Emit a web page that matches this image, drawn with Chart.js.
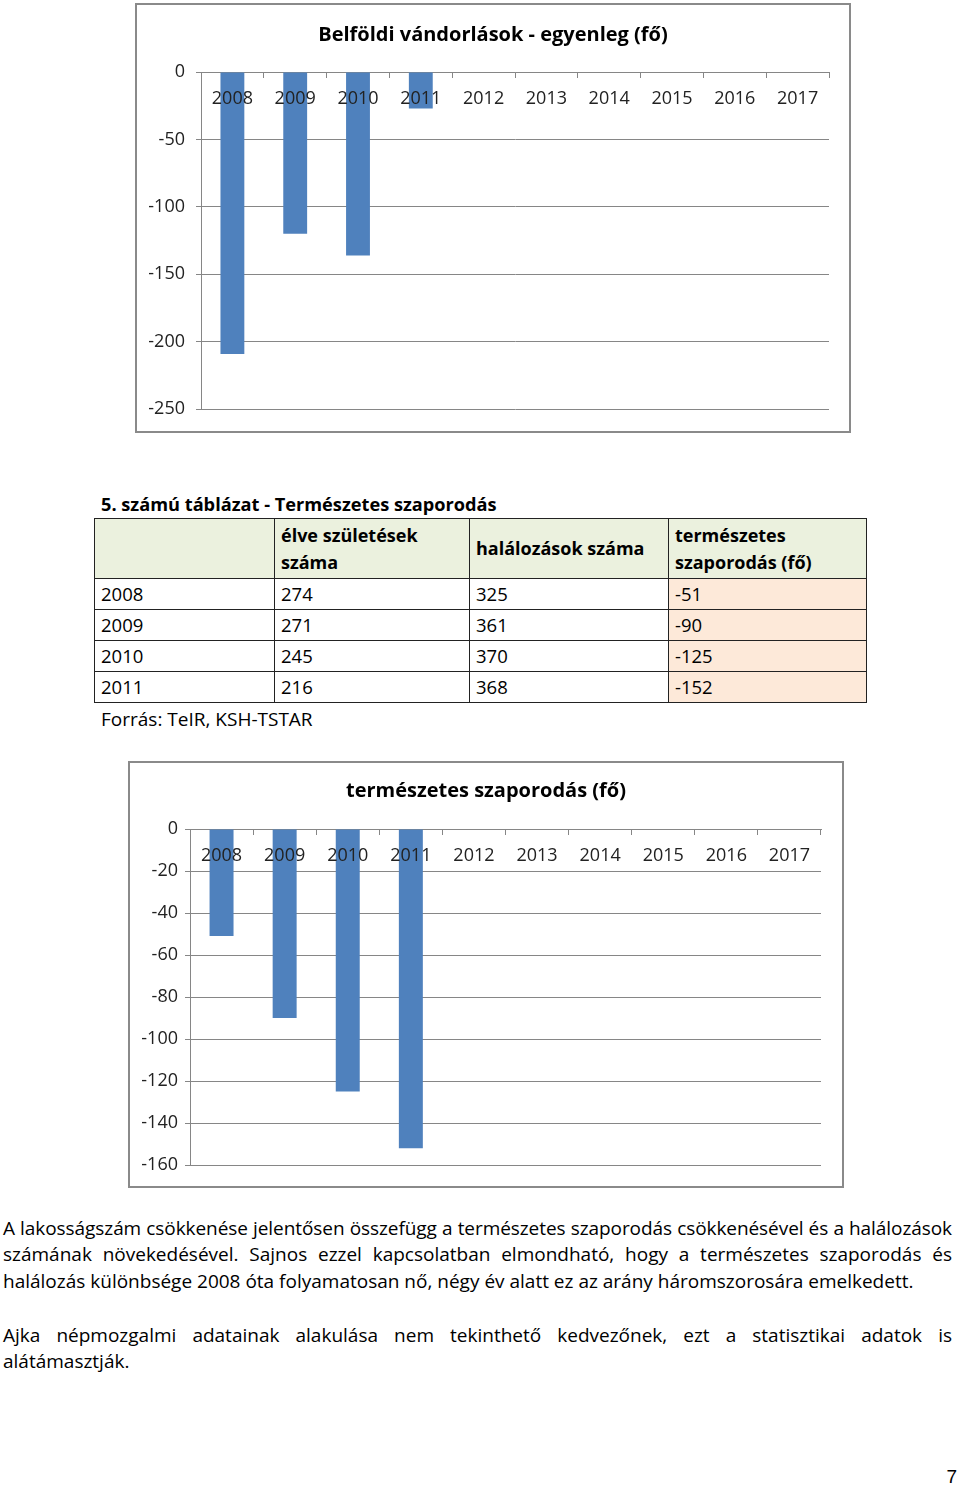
<!DOCTYPE html>
<html lang="hu">
<head>
<meta charset="utf-8">
<script src="https://cdn.jsdelivr.net/npm/chart.js@4.4.1/dist/chart.umd.min.js"></script>
<style>
  body { margin: 0; width: 960px; height: 1486px; position: relative; background: #fff;
         font-family: "Open Sans", sans-serif; color: #000; overflow: hidden; }
  .box { position: absolute; border: 2px solid #8a8a8a; box-sizing: border-box; background: #fff; }
  .box canvas { position: absolute; left: 0; top: 0; }
  .abs { position: absolute; white-space: nowrap; }
  #tblTitle { left: 101px; top: 491px; font-size: 18.2px; font-weight: bold; line-height: 26px; }
  #source { left: 101px; top: 706px; font-size: 19px; line-height: 26px; }
  table { position: absolute; left: 94px; top: 518px; border-collapse: collapse; table-layout: fixed;
          font-size: 18.5px; }
  td { border: 1px solid #222; padding: 0 0 0 6px; vertical-align: middle; line-height: 27px; }
  tr.head td { background: #ebf1de; font-weight: bold; font-size: 18px; height: 59px; }
  tr.row td { height: 30px; line-height: 26px; }
  tr.row td.nat { background: #fde9d9; }
  .line { position: absolute; left: 3px; width: 949px; font-size: 19px; line-height: 26px;
          text-align: justify; text-align-last: justify; white-space: nowrap; }
  .line.last { text-align-last: left; }
  #pageNo { right: 3px; top: 1466px; font-size: 19px; font-family: "Liberation Sans", Arial, sans-serif; }
</style>
</head>
<body>

<div class="box" style="left:135px; top:3px; width:716px; height:430px;">
  <canvas id="chartVandorlas" width="712" height="426"></canvas>
</div>

<div class="abs" id="tblTitle">5. számú táblázat - Természetes szaporodás</div>
<table id="tbl">
  <colgroup><col style="width:180px"><col style="width:195px"><col style="width:199px"><col style="width:198px"></colgroup>
  <tbody></tbody>
</table>
<div class="abs" id="source">Forrás: TeIR, KSH-TSTAR</div>

<div class="box" style="left:128px; top:761px; width:716px; height:427px;">
  <canvas id="chartSzaporodas" width="712" height="423"></canvas>
</div>

<div class="line" style="top:1215px; letter-spacing:-0.07px;">A lakosságszám csökkenése jelentősen összefügg a természetes szaporodás csökkenésével és a halálozások</div>
<div class="line" style="top:1241px;">számának növekedésével. Sajnos ezzel kapcsolatban elmondható, hogy a természetes szaporodás és</div>
<div class="line last" style="top:1268px;">halálozás különbsége 2008 óta folyamatosan nő, négy év alatt ez az arány háromszorosára emelkedett.</div>
<div class="line" style="top:1322px;">Ajka népmozgalmi adatainak alakulása nem tekinthető kedvezőnek, ezt a statisztikai adatok is</div>
<div class="line last" style="top:1348px;">alátámasztják.</div>
<div class="abs" id="pageNo">7</div>

<script>
const FONT = "'Open Sans', sans-serif";

// kategóriák (évek)
const years = ["2008", "2009", "2010", "2011", "2012", "2013", "2014", "2015", "2016", "2017"];

// Belföldi vándorlások - egyenleg (fő), leolvasva az ábráról
const vandorlasValues = [-209, -120, -136, -27];

// 5. számú táblázat
const tableYears = ["2008", "2009", "2010", "2011"];
const szuletesek = [274, 271, 245, 216];
const halalozasok = [325, 361, 370, 368];
const szaporodas = [-51, -90, -125, -152];
const tableHeader = ["", "élve születések<br>száma", "halálozások száma", "természetes<br>szaporodás (fő)"];

// tengelyek
const vandorlasAxis = { min: -250, max: 0, step: 50 };
const szaporodasAxis = { min: -160, max: 0, step: 20 };

// táblázat felépítése
const tbody = document.querySelector("#tbl tbody");
let html = '<tr class="head">' + tableHeader.map(h => `<td>${h}</td>`).join("") + "</tr>";
tableYears.forEach((y, i) => {
    html += `<tr class="row"><td>${y}</td><td>${szuletesek[i]}</td><td>${halalozasok[i]}</td><td class="nat">${szaporodas[i]}</td></tr>`;
});
tbody.innerHTML = html;

function makeChart(id, title, values, axis, yWidth, yPad, rightGap, titlePad, pad) {
    return new Chart(document.getElementById(id), {
        type: "bar",
        data: {
            labels: years,
            datasets: [{ data: values, backgroundColor: "#4f81bd", barPercentage: 0.38, categoryPercentage: 1 }]
        },
        options: {
            responsive: false,
            animation: false,
            layout: { padding: pad },
            plugins: {
                legend: { display: false },
                tooltip: { enabled: false },
                title: {
                    display: true, text: title, color: "#000",
                    font: { family: FONT, size: 20, weight: "bold" },
                    padding: titlePad
                }
            },
            scales: {
                x: {
                    position: { y: 0 },
                    grid: { offset: true, drawOnChartArea: false, tickLength: 5, color: "#868686" },
                    border: { color: "#868686" },
                    // a feliratok az oszlopok fölé kerülnek
                    ticks: { z: 1, padding: 11, color: "#222", maxRotation: 0, autoSkip: false, font: { family: FONT, size: 18 } }
                },
                y: {
                    min: axis.min, max: axis.max,
                    grid: { color: "#868686", tickLength: 5 },
                    border: { color: "#868686" },
                    ticks: { stepSize: axis.step, padding: yPad, color: "#222", font: { family: FONT, size: 18 } },
                    afterFit: s => { s.width = yWidth; }
                },
                // üres jobb oldali sáv, hogy a cím a keret közepére kerüljön
                gap: {
                    axis: "y", position: "right",
                    grid: { display: false }, border: { display: false }, ticks: { display: false },
                    afterFit: s => { s.width = rightGap; }
                }
            }
        }
    });
}

makeChart("chartVandorlas", "Belföldi vándorlások - egyenleg (fő)", vandorlasValues, vandorlasAxis,
    64, 11, 20, { top: 18, bottom: 25 }, { left: 0, right: 0, top: 0, bottom: 21 });
makeChart("chartSzaporodas", "természetes szaporodás (fő)", szaporodas, szaporodasAxis,
    60, 7, 21, { top: 16, bottom: 26 }, { left: 0, right: 0, top: 0, bottom: 21 });
</script>
</body>
</html>
